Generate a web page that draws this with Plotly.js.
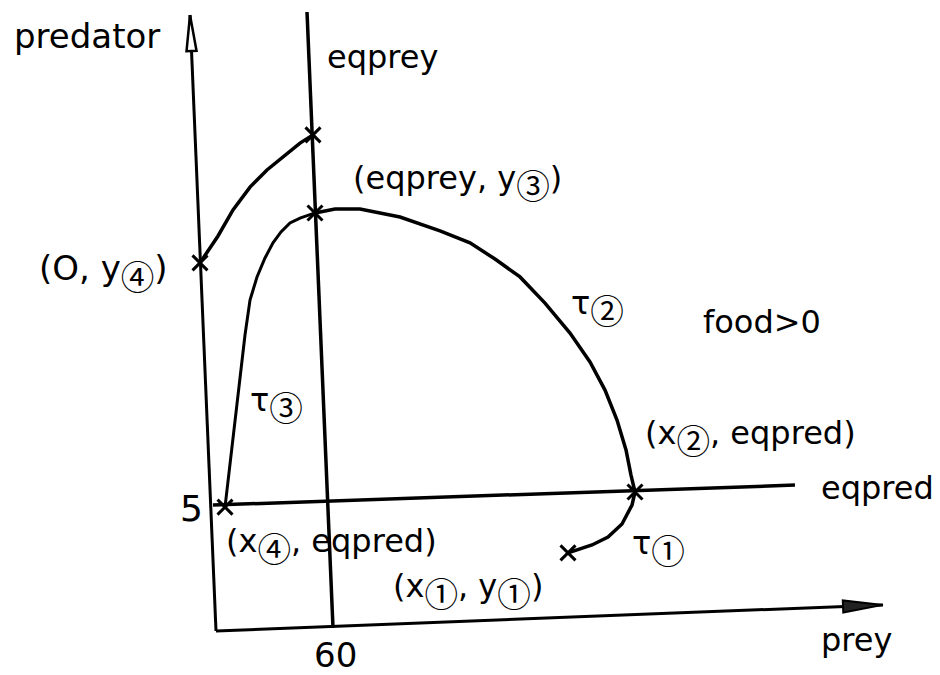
<!DOCTYPE html>
<html>
<head>
<meta charset="utf-8">
<script src="https://cdn.plot.ly/plotly-3.0.1.min.js"></script>
<style>html,body{margin:0;padding:0;background:#fff;}#chart{width:940px;height:675px;}</style>
</head>
<body>
<div id="chart"></div>
<script>
// ---- data (prey, predator units) ----
const preyAxisX = [0, 342.05];
const preyAxisY = [0, 1.02];
const predAxisX = [0, -13.33];
const predAxisY = [0, 24.06];
const eqpreyX = [46.67, 60];
const eqpreyY = [24.18, 0.12];
const eqpredX = [-1.54, 296.9];
const eqpredY = [4.92, 5.70];

// trajectory tau1: (x1,y1) -> (x2,eqpred)
const tau1X = [180.51, 185.13, 192.82, 201.03, 208.21, 213.33, 214.87];
const tau1Y = [3.05, 3.16, 3.36, 3.67, 4.18, 4.92, 5.43];
// tau2: (x2,eqpred) -> (eqprey,y3)
const tau2X = [214.87, 212.82, 210.26, 205.64, 199.49, 191.79, 181.54, 168.72, 155.90, 143.08, 130.26, 114.87, 94.36, 73.85, 61.03, 50.77];
const tau2Y = [5.43, 6.09, 7.07, 8.24, 9.41, 10.51, 11.64, 12.81, 13.83, 14.53, 15.16, 15.63, 16.17, 16.48, 16.48, 16.33];
// tau3: (eqprey,y3) -> (x4,eqpred)
const tau3X = [50.77, 43.08, 37.95, 33.33, 29.23, 25.13, 21.03, 17.44, 14.87, 12.82, 8.72, 4.62];
const tau3Y = [16.33, 16.13, 15.94, 15.59, 15.16, 14.57, 13.83, 12.93, 11.56, 10.20, 7.46, 4.84];
// upper curve: (0,y4) -> eqprey
const upperX = [-8.21, 1.03, 8.72, 17.44, 26.15, 34.87, 43.08, 49.74];
const upperY = [14.38, 15.43, 16.45, 17.34, 18.01, 18.55, 19.06, 19.38];

// marked points
const markX = [180.51, 214.87, 50.77, 4.62, -8.21, 49.74];
const markY = [3.05, 5.43, 16.33, 4.84, 14.38, 19.38];

// ---- layout helpers ----
const X0 = 216, Y0 = 631, SX = 1.95, SY = 25.6;
const dx = p => (p - X0) / SX;
const dy = p => (Y0 - p) / SY;
const W = 940, H = 675;

function arrowHead(xs, ys, len, half) {
  const n = xs.length;
  const tx = X0 + xs[n-1]*SX, ty = Y0 - ys[n-1]*SY;
  const px = X0 + xs[n-2]*SX, py = Y0 - ys[n-2]*SY;
  let ux = tx - px, uy = ty - py; const L = Math.hypot(ux, uy); ux /= L; uy /= L;
  const bx = tx - ux*len, by = ty - uy*len;
  const nx = -uy, ny = ux;
  const pts = [[tx,ty],[bx+nx*half,by+ny*half],[bx-nx*half,by-ny*half],[tx,ty]];
  return {x: pts.map(p=>dx(p[0])), y: pts.map(p=>dy(p[1]))};
}

function ln(x, y, w) {
  return {type:'scatter', mode:'lines', x:x, y:y, line:{color:'#000', width:w||3}, hoverinfo:'skip', cliponaxis:false};
}
const ahY = arrowHead(predAxisX, predAxisY, 36, 5);
const ahX = arrowHead(preyAxisX, preyAxisY, 40, 6);

const traces = [
  ln(preyAxisX, preyAxisY, 3),
  ln(predAxisX, predAxisY, 3),
  ln(eqpreyX, eqpreyY, 3.5),
  ln(eqpredX, eqpredY, 3.5),
  ln(tau1X, tau1Y, 3.5),
  ln(tau2X, tau2Y, 3.5),
  ln(tau3X, tau3Y, 3),
  ln(upperX, upperY, 3.5),
  {type:'scatter', mode:'lines', x:ahY.x, y:ahY.y, fill:'toself', fillcolor:'#fff', line:{color:'#000', width:2.5}, hoverinfo:'skip'},
  {type:'scatter', mode:'lines', x:ahX.x, y:ahX.y, fill:'toself', fillcolor:'#222', line:{color:'#000', width:2}, hoverinfo:'skip'},
  {type:'scatter', mode:'markers', x:markX, y:markY, marker:{symbol:'x-thin', size:15, line:{color:'#000', width:3}}, hoverinfo:'skip', cliponaxis:false}
];

const F = 'DejaVu Sans, Liberation Sans, sans-serif';
function sub(c){ return '<span style="font-family:Noto Sans CJK JP;font-size:48px"><sub>' + c + '</sub></span>'; }
function txt(t, px, py, size) {
  return {x: dx(px), y: dy(py), xref:'x', yref:'y', text:t, showarrow:false,
          xanchor:'center', yanchor:'middle', font:{family:F, size:size||32, color:'#000'}};
}
const annotations = [
  txt('predator', 87, 36, 34),
  txt('eqprey', 382, 57, 32),
  txt('(eqprey, y' + sub('③') + ')', 457, 184, 32),
  txt('(O, y' + sub('④') + ')', 103, 274, 34),
  txt('τ' + sub('②'), 597, 309, 32),
  txt('food&gt;0', 762, 322, 32),
  txt('τ' + sub('③'), 276, 406, 32),
  txt('(x' + sub('②') + ', eqpred)', 750, 439, 32),
  txt('eqpred', 877, 488, 32),
  txt('5', 191, 508, 36),
  txt('(x' + sub('④') + ', eqpred)', 331, 547, 32),
  txt('(x' + sub('①') + ', y' + sub('①') + ')', 468, 592, 32),
  txt('τ' + sub('①'), 658, 549, 32),
  txt('60', 335, 655, 34),
  txt('prey', 856, 640, 32)
];

const layout = {
  width: W, height: H,
  margin: {l:0, r:0, t:0, b:0},
  paper_bgcolor: '#fff', plot_bgcolor: '#fff',
  showlegend: false,
  xaxis: {range: [dx(0), dx(W)], visible:false, fixedrange:true},
  yaxis: {range: [dy(H), dy(0)], visible:false, fixedrange:true},
  annotations: annotations
};
Plotly.newPlot('chart', traces, layout, {displayModeBar:false, staticPlot:true});
</script>
</body>
</html>
